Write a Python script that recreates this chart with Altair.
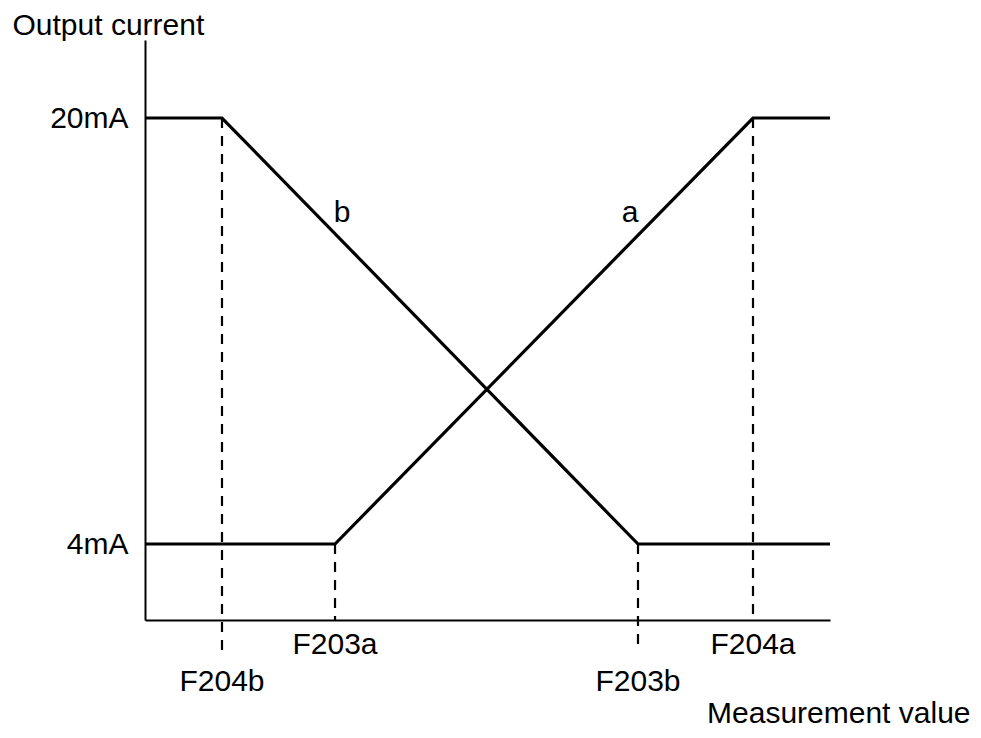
import altair as alt
import pandas as pd

# Series a (rising) and b (falling): measurement value (0-100 scale) vs output current (mA)
a_x = [0, 27.74, 88.76, 100]
a_y = [4, 4, 20, 20]
b_x = [0, 11.24, 71.97, 100]
b_y = [20, 20, 4, 4]

# Set-point markers
marker_names = ["F204b", "F203a", "F203b", "F204a"]
marker_x = [11.24, 27.74, 71.97, 88.76]
marker_level = [20, 4, 4, 20]
marker_row = ["lower", "upper", "lower", "upper"]

# Series labels
series_names = ["b", "a"]
series_label_x = [28.76, 70.8]
series_label_y = [16.1, 16.1]

y_ticks = [4, 20]

FONT = "Liberation Sans"
FS = 30

lines = pd.DataFrame(
    {"series": ["a"] * len(a_x) + ["b"] * len(b_x),
     "x": a_x + b_x,
     "y": a_y + b_y,
     "order": list(range(len(a_x))) + list(range(len(b_x)))}
)
markers = pd.DataFrame({"name": marker_names, "x": marker_x,
                        "level": marker_level, "row": marker_row})
slabels = pd.DataFrame({"name": series_names, "x": series_label_x, "y": series_label_y})

xscale = alt.Scale(domain=[0, 100], nice=False, zero=False)
yscale = alt.Scale(domain=[1.146, 22.93], nice=False, zero=False)

xaxis = alt.Axis(labels=False, ticks=False, grid=False, domainColor="black",
                 domainWidth=2, title="Measurement value", titleFont=FONT,
                 titleFontSize=FS, titleFontWeight="normal", titleColor="black",
                 titleAlign="right", titleBaseline="middle", titleX=825, titleY=93)
yaxis = alt.Axis(values=y_ticks, labelExpr="datum.value + 'mA'", ticks=False,
                 grid=False, domainColor="black", domainWidth=2, labelPadding=17,
                 labelFont=FONT, labelFontSize=FS, labelColor="black",
                 title="Output current", titleFont=FONT, titleFontSize=FS,
                 titleFontWeight="normal", titleColor="black", titleAngle=0,
                 titleAlign="left", titleBaseline="middle", titleX=-133, titleY=-15)

line_layer = alt.Chart(lines).mark_line(color="black", strokeWidth=3.2).encode(
    x=alt.X("x:Q", scale=xscale, axis=xaxis),
    y=alt.Y("y:Q", scale=yscale, axis=yaxis),
    detail="series:N",
    order="order:Q",
)

base_m = alt.Chart(markers)
dash = dict(color="black", strokeWidth=2.2, strokeDash=[10, 8])

rule_upper = base_m.transform_filter(alt.datum.row == "upper").mark_rule(**dash).encode(
    x=alt.X("x:Q", scale=xscale), y=alt.Y("level:Q", scale=yscale), y2=alt.value(580))
rule_f204b = base_m.transform_filter(alt.datum.name == "F204b").mark_rule(**dash).encode(
    x=alt.X("x:Q", scale=xscale), y=alt.Y("level:Q", scale=yscale), y2=alt.value(618))
rule_f203b = base_m.transform_filter(alt.datum.name == "F203b").mark_rule(**dash).encode(
    x=alt.X("x:Q", scale=xscale), y=alt.Y("level:Q", scale=yscale), y2=alt.value(610))

txt = dict(font=FONT, fontSize=FS, color="black", align="center", baseline="middle")
text_upper = base_m.transform_filter(alt.datum.row == "upper").mark_text(**txt).encode(
    x=alt.X("x:Q", scale=xscale), y=alt.value(605), text="name:N")
text_lower = base_m.transform_filter(alt.datum.row == "lower").mark_text(**txt).encode(
    x=alt.X("x:Q", scale=xscale), y=alt.value(642), text="name:N")

series_text = alt.Chart(slabels).mark_text(font=FONT, fontSize=FS, color="black",
                                           align="center", baseline="alphabetic").encode(
    x=alt.X("x:Q", scale=xscale), y=alt.Y("y:Q", scale=yscale), text="name:N")

chart = alt.layer(
    rule_upper, rule_f204b, rule_f203b, line_layer, text_upper, text_lower, series_text
).properties(
    width=685, height=580,
    padding={"left": 137, "top": 32, "right": 143, "bottom": 110},
    autosize=alt.AutoSizeParams(type="none"),
    background="white",
).configure_view(strokeWidth=0, stroke="transparent")

chart.save("out.html", embed_options={"renderer": "svg", "actions": False})
